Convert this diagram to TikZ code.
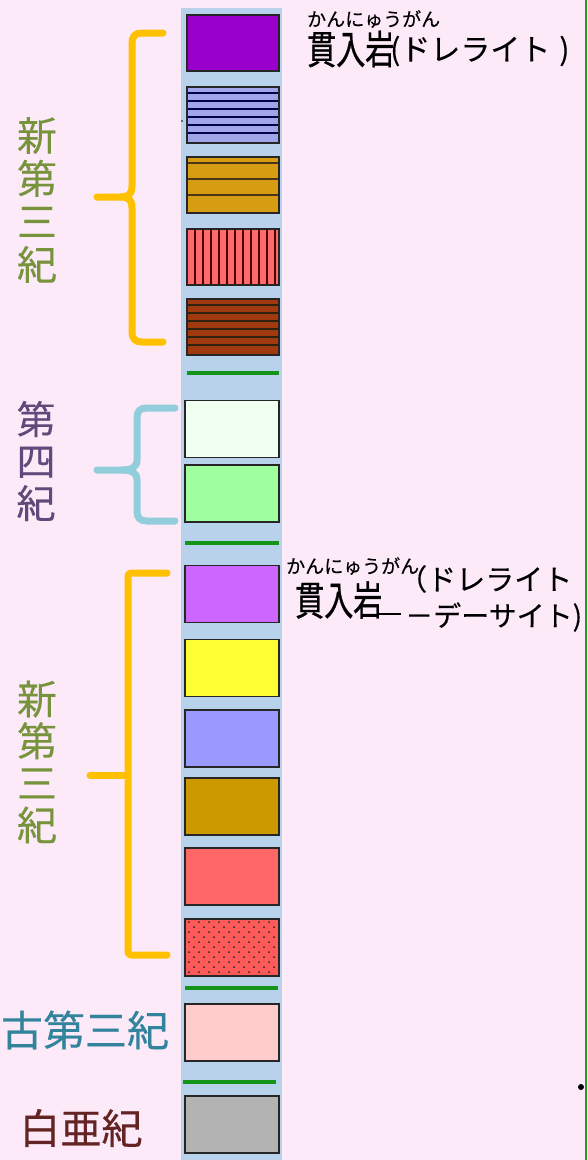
\documentclass[tikz,border=0pt]{standalone}
\usepackage{fontspec}
\usepackage{graphicx}
\newfontfamily\jp[FakeBold=0.3]{Noto Sans CJK JP}
\newfontfamily\jpb[FakeBold=0.9]{Noto Sans CJK JP}
\definecolor{bg}{HTML}{FDEAF9}
\definecolor{colbg}{HTML}{B9D2EC}
\definecolor{gr}{HTML}{14951A}
\definecolor{edge}{HTML}{1FA01F}
\definecolor{orng}{HTML}{FFC000}
\definecolor{cyanb}{HTML}{92CDDC}
\definecolor{olive}{HTML}{77933C}
\definecolor{purp}{HTML}{604A7B}
\definecolor{teal}{HTML}{31849B}
\definecolor{dred}{HTML}{632423}
\definecolor{cA}{HTML}{9900CC}
\definecolor{cB}{HTML}{A0A4E8}
\definecolor{cC}{HTML}{D69C12}
\definecolor{cD}{HTML}{FF6A6A}
\definecolor{cE}{HTML}{A1380E}
\definecolor{cF}{HTML}{F0FFF0}
\definecolor{cG}{HTML}{9FFF9F}
\definecolor{cH}{HTML}{CC66FF}
\definecolor{cI}{HTML}{FFFF33}
\definecolor{cJ}{HTML}{9999FF}
\definecolor{cK}{HTML}{CC9900}
\definecolor{cL}{HTML}{FF6666}
\definecolor{cM}{HTML}{FF5A5A}
\definecolor{cN}{HTML}{FFCCCC}
\definecolor{cO}{HTML}{B3B3B3}
\tikzset{
  layer/.style={draw=black!85, line width=1.8pt, inner sep=0pt, outer sep=0pt},
  upper/.style={layer, minimum width=92pt, minimum height=56pt},
  lower/.style={layer, minimum width=94pt, minimum height=57pt},
  gline/.style={draw=gr, line width=4.5pt},
  brace/.style={line width=7pt, line cap=round, line join=round},
  vlabel/.style={align=center, inner sep=0pt},
  rlabel/.style={inner sep=0pt, anchor=west},
  stripe/.style={line width=1.3pt},
}
\begin{document}
\begin{tikzpicture}[x=1pt,y=-1pt]
\useasboundingbox (0,0) rectangle (587,1160);
\fill[bg] (0,0) rectangle (587,1160);
% column
\fill[colbg] (181,8) rectangle (282,1160);
% right edge line
\draw[edge, line width=1.6pt] (586,0) -- (586,1160);
\fill[black] (581,1087) circle (3);
\fill[black] (182,121) circle (0.8);

% upper layers
\node[upper, fill=cA] (b1) at (233,43) {};
\node[upper, fill=cB] (b2) at (233,115) {};
\foreach \yy in {93,101,109,117,125,133}
  \draw[stripe, draw=black!70!blue] (187,\yy) -- (279,\yy);
\draw[layer] (b2.north west) rectangle (b2.south east);
\node[upper, fill=cC] (b3) at (233,185) {};
\foreach \yy in {163,179,195}
  \draw[stripe, draw=black!60!brown] (187,\yy) -- (279,\yy);
\draw[layer] (b3.north west) rectangle (b3.south east);
\node[upper, fill=cD] (b4) at (233,257) {};
\foreach \xx in {195,203,...,275}
  \draw[stripe, draw=black!70!red] (\xx,229) -- (\xx,285);
\draw[layer] (b4.north west) rectangle (b4.south east);
\node[upper, fill=cE] (b5) at (233,327) {};
\foreach \yy in {305,313,321,329,337,345}
  \draw[stripe, draw=black!75!brown] (187,\yy) -- (279,\yy);
\draw[layer] (b5.north west) rectangle (b5.south east);
\draw[gline] (187,373) -- (279,373);

\node[lower, fill=cF] (b6) at (232,429) {};
\node[lower, fill=cG] (b7) at (232,493.5) {};
\draw[gline] (185,543) -- (279,543);

\node[lower, fill=cH] (b8) at (232,594) {};
\node[lower, fill=cI] (b9) at (232,668) {};
\node[lower, fill=cJ] (b10) at (232,738.5) {};
\node[lower, fill=cK] (b11) at (232,806.5) {};
\node[lower, fill=cL] (b12) at (232,876.5) {};
\node[lower, fill=cM] (b13) at (232,947.5) {};
\foreach \r in {0,...,10}{
  \pgfmathsetmacro{\yy}{922+5*\r}
  \pgfmathsetmacro{\off}{mod(\r,2)*5}
  \foreach \c in {0,...,8}{
    \fill[black!85] ({189+\off+10*\c},\yy) circle (1);
  }
}
\draw[layer] (b13.north west) rectangle (b13.south east);
\draw[gline] (185,988) -- (278,988);
\node[lower, fill=cN] (b14) at (232,1032.5) {};
\draw[gline] (183,1082) -- (276,1082);
\node[lower, fill=cO] (b15) at (232,1124.5) {};

% braces
\draw[brace, draw=orng] (163,33) -- (142,33) .. controls (135,33) and (132,36) .. (132,44) -- (132,186) .. controls (132,194) and (129,197) .. (120,197) -- (97,197);
\draw[brace, draw=orng] (120,197) .. controls (129,197) and (132,200) .. (132,208) -- (132,331) .. controls (132,339) and (135,342) .. (142,342) -- (163,342);
\draw[brace, draw=cyanb] (175,408) -- (147,408) .. controls (140,408) and (137,411) .. (137,418) -- (137,460) .. controls (137,467) and (132,470) .. (122,470) -- (97,470);
\draw[brace, draw=cyanb] (122,470) .. controls (132,470) and (137,473) .. (137,480) -- (137,511) .. controls (137,518) and (140,521) .. (147,521) -- (175,521);
\draw[brace, draw=orng, rounded corners=3pt] (167,573) -- (128,573) -- (128,955) -- (167,955);
\draw[brace, draw=orng] (90,775) -- (128,775);

% left labels
\node[vlabel, text=olive, font=\jp\fontsize{40}{43}\selectfont] (l1) at (37,200) {新\\第\\三\\紀};
\node[vlabel, text=purp, font=\jp\fontsize{39}{42}\selectfont] (l2) at (36,461) {第\\四\\紀};
\node[vlabel, text=olive, font=\jp\fontsize{40}{42}\selectfont] (l3) at (37,762) {新\\第\\三\\紀};
\node[vlabel, text=teal, font=\jp\fontsize{42}{42}\selectfont] (l4) at (85,1030) {古第三紀};
\node[vlabel, text=dred, font=\jp\fontsize{41}{41}\selectfont] (l5) at (81,1128) {白亜紀};

% right labels
\node[rlabel, font=\jp\fontsize{19}{19}\selectfont] (r1) at (307,19) {かんにゅうがん};
\node[rlabel, font=\jpb\fontsize{33}{33}\selectfont] (r2) at (307,49) {\scalebox{0.88}[1.2]{貫入岩}};
\node[rlabel, font=\jp\fontsize{30}{30}\selectfont] (r3) at (390,51) {(ドレライト\hspace{9pt})};

\node[rlabel, font=\jp\fontsize{19}{19}\selectfont] (r4) at (286,566) {かんにゅうがん};
\node[rlabel, font=\jpb\fontsize{33}{33}\selectfont] (r5) at (295,600) {\scalebox{0.88}[1.22]{貫入岩}};
\node[rlabel, font=\jp\fontsize{29}{29}\selectfont] (r6) at (398,579) {（ドレライト};
\node[rlabel, font=\jp\fontsize{28}{28}\selectfont] (r7) at (405,617) {－デーサイト)};
\draw[black, line width=2pt] (379,614) -- (401,614);
\end{tikzpicture}
\end{document}
